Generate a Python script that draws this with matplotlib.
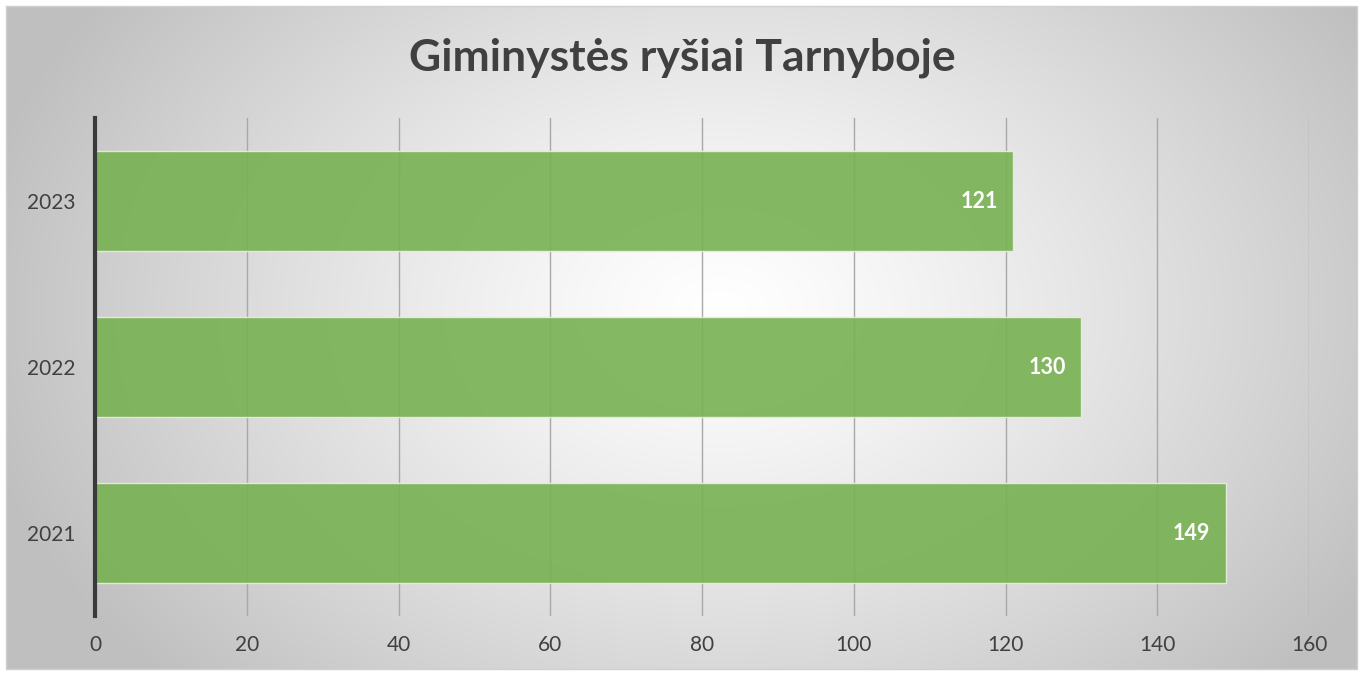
import matplotlib.pyplot as plt
import numpy as np

years = ["2021", "2022", "2023"]
counts = [149, 130, 121]
x_ticks = [0, 20, 40, 60, 80, 100, 120, 140, 160]
title = "Giminystės ryšiai Tarnyboje"

plt.rcParams['font.family'] = ['Lato', 'DejaVu Sans']

fig = plt.figure(figsize=(13.63, 6.75), dpi=100)

# radial gradient background with a thin border
bg = fig.add_axes([0, 0, 1, 1], zorder=-10)
h, w = 675, 1363
yy, xx = np.mgrid[0:h, 0:w]
r = np.sqrt(((xx - 720) / 760.0) ** 2 + ((yy - 310) / 540.0) ** 2)
r = np.clip(r, 0, 1)
shade = 1.0 - 0.25 * r ** 1.25
img = np.dstack([shade, shade, shade])
img[:6, :] = 1
img[-6:, :] = 1
img[:, :6] = 1
img[:, -6:] = 1
bg.imshow(img, aspect='auto', extent=[0, w, h, 0])
bg.plot([6, w - 6, w - 6, 6, 6], [6, 6, h - 6, h - 6, 6], color='#d0d0d0', lw=1)
bg.set_xlim(0, w)
bg.set_ylim(h, 0)
bg.axis('off')

ax = fig.add_axes([95 / w, 1 - 616 / h, (1309 - 95) / w, (616 - 118) / h])
ax.patch.set_alpha(0)

ypos = np.arange(len(years))
ax.barh(ypos, counts, height=0.6, color='#78b152', alpha=0.9,
        edgecolor='#e8f0e0', linewidth=1, zorder=3)
for y, v in zip(ypos, counts):
    ax.text(v - 2.0, y, str(v), ha='right', va='center', color='white',
            fontsize=15.5, fontweight='bold', zorder=4)

ax.set_xlim(0, 160)
ax.set_ylim(-0.5, 2.5)
ax.set_xticks(x_ticks)
ax.set_yticks(ypos)
ax.set_yticklabels(years)
ax.xaxis.grid(True, color='#a8a8a8', linewidth=1, zorder=1)
ax.tick_params(axis='both', length=0, labelsize=15, labelcolor='#404040')
ax.tick_params(axis='x', pad=14)
ax.tick_params(axis='y', pad=14)
for s in ['top', 'right', 'bottom']:
    ax.spines[s].set_visible(False)
ax.spines['left'].set_color('#3a3a3a')
ax.spines['left'].set_linewidth(3)
ax.spines['left'].set_zorder(5)

fig.text(682 / w, 1 - 58 / h, title, ha='center', va='center',
         fontsize=32, fontweight='bold', color='#404040')

fig.savefig('out.png', dpi=100)
